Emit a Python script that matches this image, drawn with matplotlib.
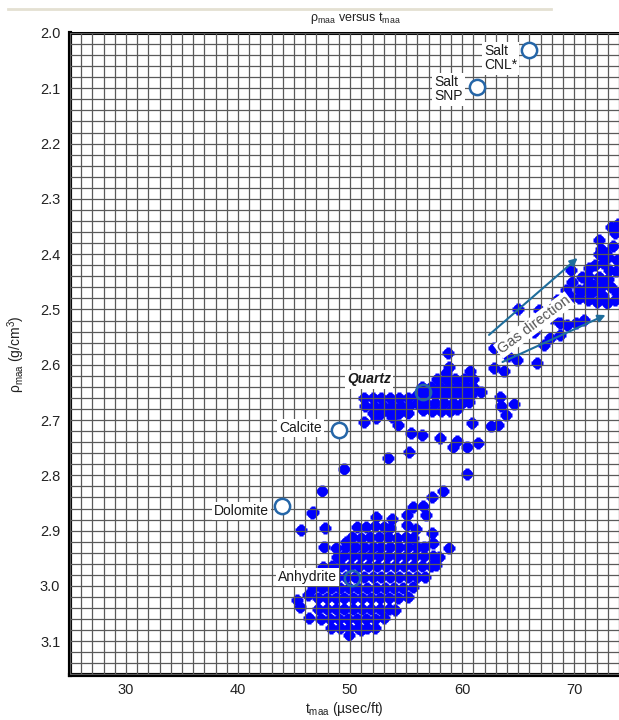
import matplotlib
matplotlib.use("Agg")
import matplotlib.pyplot as plt
from matplotlib.lines import Line2D
from matplotlib.ticker import MultipleLocator

plt.rcParams['font.family'] = ['Liberation Sans', 'DejaVu Sans']
plt.rcParams['mathtext.fontset'] = 'custom'
plt.rcParams['mathtext.rm'] = 'Liberation Sans'
plt.rcParams['mathtext.it'] = 'Liberation Sans:italic'

# reference minerals (open circles)
mineral_names = ['Salt\nCNL*', 'Salt\nSNP', 'Quartz', 'Calcite', 'Dolomite', 'Anhydrite']
mineral_t = [66.0, 61.3, 56.5, 49.0, 43.9, 50.2]
mineral_rho = [2.031, 2.098, 2.650, 2.718, 2.855, 2.986]

# log points - dolomite/anhydrite cloud
lower_t = [55.6, 56.5,
           46.6, 52.3, 53.7, 55.1, 56.8,
           45.6, 47.8, 50.6, 51.4, 52.2, 53.0, 53.6, 55.1, 55.9, 57.3,
           49.6, 50.2, 51.0, 51.8, 52.6, 53.4, 54.2, 55.0, 55.6, 57.4,
           47.7, 48.75, 49.6, 50.4, 51.2, 52.0, 52.8, 53.6, 54.4, 55.2, 56.0, 56.6, 58.8,
           48.8, 49.4, 50.2, 51.0, 51.8, 52.6, 53.4, 54.2, 55.0, 55.8, 56.6, 57.4, 57.9,
           47.6, 48.4, 49.2, 50.0, 50.8, 51.6, 52.4, 53.2, 54.0, 54.8, 55.6, 56.4, 57.2, 57.7,
           47.2, 48.0, 48.8, 49.6, 50.4, 51.2, 52.0, 52.8, 53.6, 54.4, 55.2, 56.0, 56.7,
           46.7, 47.5, 48.3, 49.1, 49.9, 50.7, 51.5, 52.3, 53.1, 53.9, 54.7, 55.6,
           45.3, 46.2, 47.1, 47.9, 48.7, 49.5, 50.3, 51.1, 51.9, 52.7, 53.5, 54.3, 55.2,
           45.5, 47.1, 47.9, 48.7, 49.5, 50.3, 51.1, 51.9, 52.7, 53.5, 54.0,
           46.3, 47.4, 48.2, 49.0, 49.8, 50.6, 51.4, 52.2, 53.0,
           48.3, 49.1, 49.9, 50.7, 51.5, 52.2,
           49.9, 51.0]
lower_rho = [2.857, 2.855,
             2.868, 2.875, 2.879, 2.872, 2.872,
             2.899, 2.895, 2.893, 2.893, 2.891, 2.893, 2.895, 2.890, 2.897, 2.904,
             2.920, 2.911, 2.913, 2.911, 2.911, 2.911, 2.913, 2.911, 2.913, 2.922,
             2.929, 2.931, 2.929, 2.929, 2.929, 2.929, 2.929, 2.929, 2.929, 2.929, 2.929, 2.929, 2.931,
             2.948, 2.946, 2.946, 2.946, 2.946, 2.946, 2.946, 2.946, 2.946, 2.946, 2.946, 2.946, 2.948,
             2.966, 2.964, 2.964, 2.964, 2.964, 2.964, 2.964, 2.964, 2.964, 2.964, 2.964, 2.964, 2.964, 2.962,
             2.984, 2.984, 2.984, 2.984, 2.984, 2.984, 2.984, 2.984, 2.984, 2.984, 2.984, 2.984, 2.984,
             3.003, 3.003, 3.003, 3.003, 3.003, 3.003, 3.003, 3.003, 3.003, 3.003, 3.003, 3.001,
             3.025, 3.016, 3.022, 3.022, 3.022, 3.022, 3.022, 3.022, 3.022, 3.022, 3.022, 3.022, 3.020,
             3.038, 3.041, 3.041, 3.041, 3.041, 3.041, 3.041, 3.041, 3.041, 3.041, 3.043,
             3.058, 3.060, 3.060, 3.060, 3.060, 3.060, 3.060, 3.060, 3.058,
             3.076, 3.076, 3.076, 3.076, 3.076, 3.076,
             3.089, 3.080]

# quartz cloud
quartz_t = [51.2, 52.0, 52.8, 53.6, 54.4, 55.2,
            51.3, 52.1, 52.9, 53.7, 54.5, 55.3,
            52.0, 52.8, 53.6, 54.4, 55.2, 52.3, 53.75,
            58.6, 58.8, 60.7,
            57.8, 58.6, 59.4, 60.2, 61.0,
            56.4, 57.2, 58.0, 58.8, 59.6, 60.4, 61.0,
            56.0, 56.8, 57.6, 58.4, 59.2, 60.0, 60.8,
            56.0, 56.8, 57.6, 58.4, 59.2, 60.0, 60.6,
            56.5, 57.3, 58.1, 58.9, 59.5]
quartz_rho = [2.660, 2.660, 2.660, 2.660, 2.660, 2.660,
              2.675, 2.675, 2.675, 2.675, 2.675, 2.675,
              2.688, 2.688, 2.688, 2.688, 2.688, 2.697, 2.695,
              2.615, 2.604, 2.612,
              2.625, 2.625, 2.625, 2.625, 2.625,
              2.640, 2.640, 2.640, 2.640, 2.640, 2.640, 2.640,
              2.655, 2.655, 2.655, 2.655, 2.655, 2.655, 2.655,
              2.670, 2.670, 2.670, 2.670, 2.670, 2.670, 2.668,
              2.682, 2.683, 2.683, 2.683, 2.680]

# gas-affected cloud, upper right
upper_t = [72.2, 73.3, 73.6, 73.9, 72.8, 73.5, 72.6, 71.3, 70.7, 69.8,
           69.3, 69.7, 70.4, 71.2, 72.0, 72.9, 73.6, 71.3, 72.2, 73.1,
           73.8, 73.3, 72.0, 70.4, 71.9, 73.0, 71.5, 73.8, 72.6, 73.7, 69.7,
           70.9, 71.7, 72.6, 73.0, 72.2, 71.2, 72.4]
upper_rho = [2.374, 2.350, 2.362, 2.345, 2.398, 2.385, 2.416, 2.425, 2.441, 2.450,
             2.465, 2.477, 2.479, 2.483, 2.486, 2.488, 2.483, 2.452, 2.441, 2.429,
             2.410, 2.459, 2.465, 2.465, 2.420, 2.445, 2.470, 2.470, 2.475, 2.430, 2.429,
             2.465, 2.455, 2.455, 2.405, 2.400, 2.440, 2.390]

# isolated points
scatter_t = [51.2, 54.3, 55.4, 56.4, 58.0, 59.2, 59.5, 60.4, 61.4, 60.9, 62.6, 63.2,
             55.3, 53.4, 49.5, 60.4, 47.5, 58.3, 57.3, 46.7,
             58.7, 63.4, 63.5, 63.9, 64.6, 62.8, 63.7, 62.8, 64.9, 64.1, 61.7,
             65.0, 66.9, 68.5, 68.0, 68.7, 69.4, 70.2, 70.9, 66.4, 67.8, 68.7,
             67.3, 66.7]
scatter_rho = [2.703, 2.708, 2.724, 2.727, 2.733, 2.749, 2.737, 2.749, 2.742, 2.705, 2.711, 2.708,
               2.758, 2.769, 2.789, 2.798, 2.829, 2.829, 2.840, 2.866,
               2.578, 2.658, 2.675, 2.691, 2.671, 2.606, 2.612, 2.570, 2.591, 2.585, 2.649,
               2.499, 2.501, 2.483, 2.515, 2.524, 2.528, 2.524, 2.519, 2.541, 2.552, 2.546,
               2.564, 2.597]

# gas direction arrows (start -> end)
gas_t0 = [62.4, 63.6]
gas_rho0 = [2.546, 2.595]
gas_t1 = [70.3, 72.8]
gas_rho1 = [2.407, 2.510]

fig = plt.figure(figsize=(6.19, 7.2), dpi=100)
ax = fig.add_axes([70 / 619, 45 / 720, 549 / 619, 642 / 720])

blue = '#0000ff'
for tt, rr in [(lower_t, lower_rho), (quartz_t, quartz_rho),
               (upper_t, upper_rho), (scatter_t, scatter_rho)]:
    ax.plot(tt, rr, 'o', color=blue, ms=7.6, mec='none', zorder=1.5)
    ax.plot(tt, rr, 'P', color=blue, ms=9.0, mec='none', zorder=1.5)

ax.set_xlim(25, 74)
ax.set_ylim(3.161, 2.0)
ax.xaxis.set_major_locator(MultipleLocator(10))
ax.xaxis.set_minor_locator(MultipleLocator(1))
ax.yaxis.set_major_locator(MultipleLocator(0.1))
ax.yaxis.set_minor_locator(MultipleLocator(0.02))
ax.yaxis.set_major_formatter(lambda v, p: f'{v:.1f}')
ax.set_axisbelow(False)
ax.grid(True, which='both', color='#5a5a5a', lw=0.9)
ax.tick_params(which='both', length=0, labelsize=10.5, labelcolor='#222222')
ax.tick_params(axis='y', pad=7)
ax.tick_params(axis='x', pad=6)

for s in ['left', 'bottom']:
    ax.spines[s].set_linewidth(3.0)
ax.spines['top'].set_linewidth(2.2)
ax.spines['right'].set_visible(False)

# mineral circles and labels
label_off = [(-12, -8), (-14, -2), (-32, 13), (-17, 2), (-13, -5), (-15, 1)]
hollow = ['Quartz', 'Anhydrite']
for name, tt, rr, off in zip(mineral_names, mineral_t, mineral_rho, label_off):
    face = 'none' if name in hollow else 'white'
    ax.plot(tt, rr, 'o', ms=11, mfc=face, mec='#2566a8', mew=1.8, zorder=4)
    style = 'italic' if name == 'Quartz' else 'normal'
    weight = 'bold' if name == 'Quartz' else 'normal'
    ax.annotate(name, xy=(tt, rr), xytext=off, textcoords='offset pixels',
                ha='right', va='center', multialignment='left', fontsize=10,
                linespacing=1.05, color='#1a1a1a', style=style, weight=weight,
                bbox=dict(boxstyle='square,pad=0.15', fc='white', ec='none'), zorder=5)

for a0, b0, a1, b1 in zip(gas_t0, gas_rho0, gas_t1, gas_rho1):
    ax.annotate('', xy=(a1, b1), xytext=(a0, b0),
                arrowprops=dict(arrowstyle='-|>', color='#1f6e9c', lw=1.5,
                                mutation_scale=11, shrinkA=0, shrinkB=0), zorder=5)
ax.text(66.4, 2.528, 'Gas direction', rotation=37, ha='center', va='center',
        fontsize=10.5, color='#555555', zorder=5,
        bbox=dict(boxstyle='square,pad=0.1', fc='white', ec='none'))

ax.set_xlabel('t$_{\\mathregular{maa}}$ (µsec/ft)', fontsize=10, labelpad=2, color='#222222')
ax.set_ylabel('ρ$_{\\mathregular{maa}}$ (g/cm$^{\\mathregular{3}}$)', fontsize=10,
              labelpad=9, color='#222222')
fig.text(355 / 619, 1 - 18 / 720, 'ρ$_{\\mathregular{maa}}$ versus t$_{\\mathregular{maa}}$',
         ha='center', va='center', fontsize=9, color='#222222')
fig.add_artist(Line2D([8 / 619, 551 / 619], [1 - 9 / 720, 1 - 9 / 720],
                      color='#e4e0d2', lw=2))

fig.savefig('out.png', dpi=100)
